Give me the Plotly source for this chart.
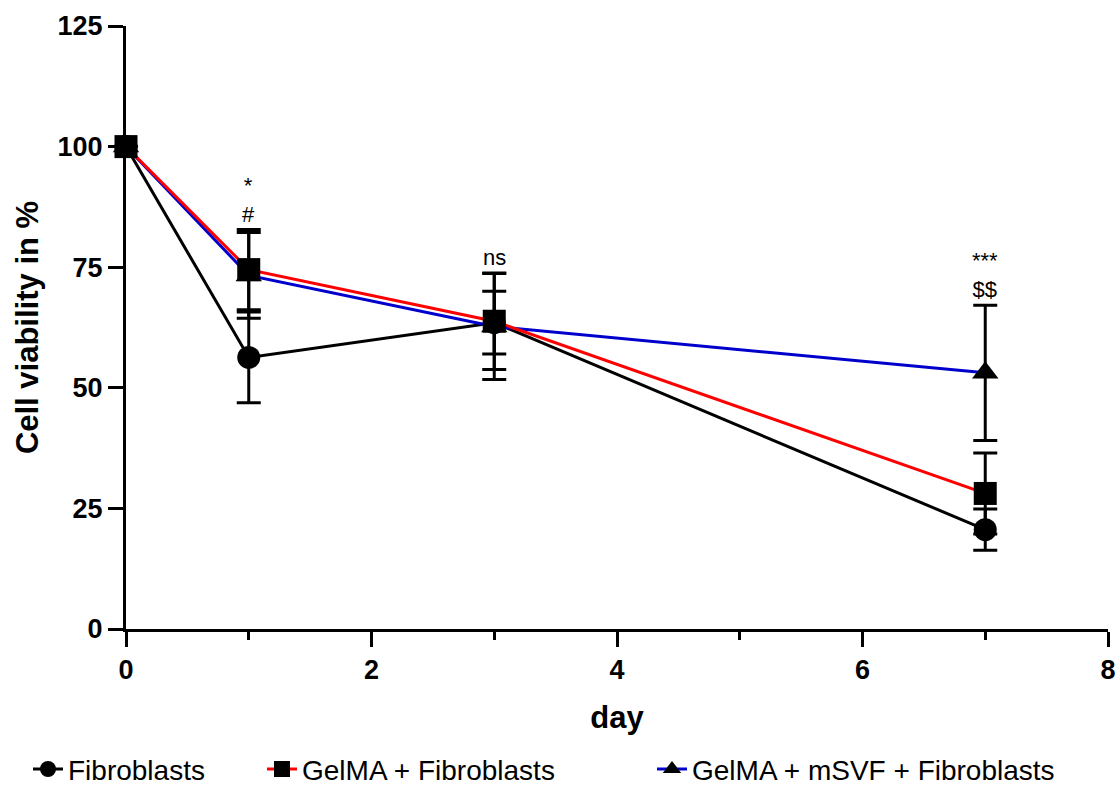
import plotly.graph_objects as go

days = [0, 1, 3, 7]

fib_mean = [100, 56.3, 63.5, 20.6]
fib_err = [0, 9.4, 6.5, 4.3]

gel_mean = [100, 74.5, 63.8, 28.1]
gel_err = [0, 8.3, 10.0, 8.4]

svf_mean = [100, 73.3, 62.7, 53.1]
svf_err = [0, 8.9, 11.0, 14.0]

series_names = ["Fibroblasts", "GelMA + Fibroblasts", "GelMA + mSVF + Fibroblasts"]
series_colors = ["#000000", "#FF0000", "#0000CC"]
series_symbols = ["circle", "square", "triangle-up"]

# significance labels per day (top line first)
sig_days = [1, 3, 7]
sig_labels = ["*<br>#", "ns", "***<br>$$"]

FONT = "Liberation Sans, Arial, sans-serif"

fig = go.Figure()

data = [
    (fib_mean, fib_err),
    (gel_mean, gel_err),
    (svf_mean, svf_err),
]
legend_ids = ["legend", "legend2", "legend3"]
legend_x = [28, 262, 652]  # px from left edge of the page

# draw order: black, blue, red (red on top)
order = [0, 2, 1]
for i in order:
    m, e = data[i]
    fig.add_trace(go.Scatter(
        x=days, y=m, name=series_names[i],
        mode="lines+markers",
        line=dict(color=series_colors[i], width=3),
        marker=dict(symbol=series_symbols[i], size=23, color="black",
                    line=dict(width=0)),
        error_y=dict(type="data", array=e, visible=True, color="black",
                     thickness=3, width=12),
        cliponaxis=False,
        legend=legend_ids[i],
    ))

# annotations above highest error bar
for d, txt in zip(sig_days, sig_labels):
    idx = days.index(d)
    top = max(fib_mean[idx] + fib_err[idx], gel_mean[idx] + gel_err[idx],
              svf_mean[idx] + svf_err[idx])
    fig.add_annotation(
        x=d, y=top, text=txt, showarrow=False,
        yanchor="bottom", yshift=1,
        font=dict(family=FONT, size=22, color="black"),
    )

legend_common = dict(
    orientation="h", xref="container", yref="container",
    y=0.02, xanchor="left", yanchor="middle",
    font=dict(family=FONT, size=28, color="black"),
    itemsizing="trace", bgcolor="rgba(0,0,0,0)",
)

fig.update_layout(
    width=1118, height=785,
    margin=dict(l=126, r=10, t=26, b=156),
    paper_bgcolor="white", plot_bgcolor="white",
    font=dict(family=FONT, color="black"),
    showlegend=True,
    legend=dict(x=legend_x[0] / 1118, **legend_common),
    legend2=dict(x=legend_x[1] / 1118, **legend_common),
    legend3=dict(x=legend_x[2] / 1118, **legend_common),
)

fig.update_xaxes(
    range=[0, 8], tickmode="array", tickvals=[0, 2, 4, 6, 8],
    automargin=False,
    showgrid=False, zeroline=False,
    showline=True, linecolor="black", linewidth=3,
    ticks="outside", ticklen=15, tickwidth=3, tickcolor="black",
    ticklabeloverflow="allow",
    minor=dict(tickvals=[1, 3, 5, 7], ticks="outside", ticklen=8,
               tickwidth=3, tickcolor="black", showgrid=False),
    tickfont=dict(family=FONT, size=27, color="black", weight="bold"),
    title=dict(text="day", font=dict(family=FONT, size=31, color="black", weight="bold"),
               standoff=22),
)

fig.update_yaxes(
    range=[0, 125], tickmode="array", tickvals=[0, 25, 50, 75, 100, 125],
    automargin=False,
    showgrid=False, zeroline=False,
    showline=True, linecolor="black", linewidth=3,
    ticks="outside", ticklen=15, tickwidth=3, tickcolor="black",
    tickfont=dict(family=FONT, size=27, color="black", weight="bold"),
    title=dict(text="Cell viability in %", font=dict(family=FONT, size=31, color="black", weight="bold"),
               standoff=10),
)

fig.write_html("out.html")
